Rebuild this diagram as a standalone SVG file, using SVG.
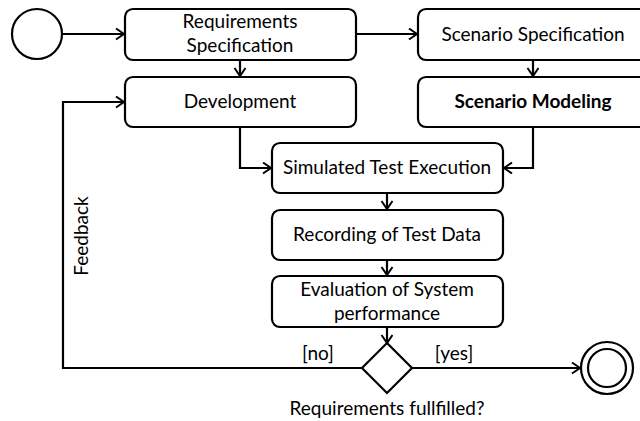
<svg xmlns="http://www.w3.org/2000/svg" width="640" height="421" viewBox="0 0 640 421">
<style>
.box{fill:#fff;stroke:#000;stroke-width:2.2}
.ln{fill:none;stroke:#000;stroke-width:2.2}
text{font-family:Lato,"Liberation Sans",sans-serif;font-size:19px;fill:#000;text-anchor:middle}
.b{font-weight:bold}
</style>
<defs>
<marker id="a" markerUnits="userSpaceOnUse" markerWidth="12" markerHeight="14" refX="9" refY="6" orient="auto">
<path d="M1,0.5 L9,6 L1,11.5" fill="none" stroke="#000" stroke-width="2"/>
</marker>
</defs>
<rect width="640" height="421" fill="#fff"/>
<g id="connectors">
<path class="ln" d="M62,34 H124" marker-end="url(#a)"/>
<path class="ln" d="M356,34 H417" marker-end="url(#a)"/>
<path class="ln" d="M240,60 V76" marker-end="url(#a)"/>
<path class="ln" d="M533,60 V76" marker-end="url(#a)"/>
<path class="ln" d="M240,127 V168 H271" marker-end="url(#a)"/>
<path class="ln" d="M533,127 V168 H504" marker-end="url(#a)"/>
<path class="ln" d="M387,193 V209" marker-end="url(#a)"/>
<path class="ln" d="M387,260 V275" marker-end="url(#a)"/>
<path class="ln" d="M387,327 V343" marker-end="url(#a)"/>
<path class="ln" d="M412,368 H580" marker-end="url(#a)"/>
<path class="ln" d="M362,368 H63 V102 H124" marker-end="url(#a)"/>
</g>
<g id="start"><circle cx="37" cy="34" r="25" class="box"/></g>
<g id="req"><rect x="125" y="9" width="231" height="51" rx="8" class="box"/><text x="240" y="28">Requirements</text><text x="240" y="52">Specification</text></g>
<g id="dev"><rect x="125" y="77" width="231" height="50" rx="8" class="box"/><text x="240" y="108">Development</text></g>
<g id="scenspec"><rect x="418" y="9" width="231" height="51" rx="8" class="box"/><text x="533" y="41">Scenario Specification</text></g>
<g id="scenmod"><rect x="418" y="77" width="231" height="50" rx="8" class="box"/><text x="533" y="108" class="b">Scenario Modeling</text></g>
<g id="sim"><rect x="272" y="143" width="231" height="50" rx="8" class="box"/><text x="387" y="174">Simulated Test Execution</text></g>
<g id="rec"><rect x="272" y="210" width="231" height="50" rx="8" class="box"/><text x="387" y="241">Recording of Test Data</text></g>
<g id="eval"><rect x="272" y="276" width="231" height="51" rx="8" class="box"/><text x="387" y="296">Evaluation of System</text><text x="387" y="320">performance</text></g>
<g id="decision"><path d="M387,343 L412,368 L387,393 L362,368 Z" class="box"/><text x="387" y="415">Requirements fullfilled?</text></g>
<g id="end"><circle cx="607" cy="368" r="26" class="box"/><circle cx="607" cy="368" r="19" class="box"/></g>
<g id="labels">
<text x="318" y="360">[no]</text>
<text x="454" y="360">[yes]</text>
<text transform="translate(88,236) rotate(-90)">Feedback</text>
</g>
</svg>
